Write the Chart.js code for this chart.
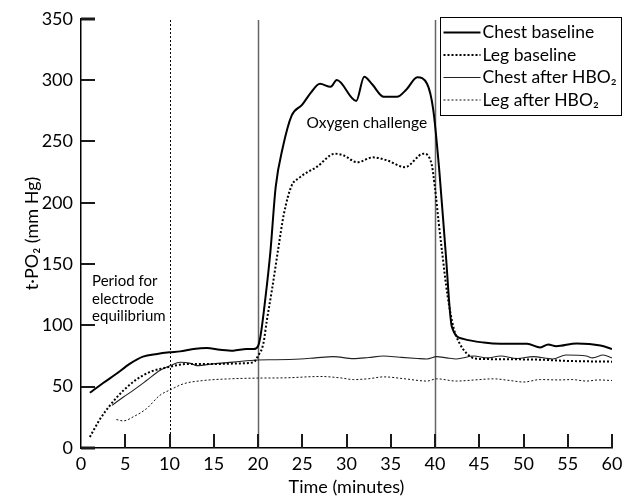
<!DOCTYPE html>
<html>
<head>
<meta charset="utf-8">
<script src="https://cdn.jsdelivr.net/npm/chart.js@4.4.1/dist/chart.umd.min.js"></script>
<style>
  body { margin: 0; background: #fff; }
</style>
</head>
<body>
<canvas id="tpo2Chart" width="629" height="500"></canvas>
<script>
// valores (tempo em minutos, t·PO2 em mm Hg)
const chestBaseT = [1, 2.5, 4, 5.5, 7, 8.6, 10, 11.2, 12.7, 14.2, 15.7, 17.2, 18.7, 19.5, 20, 20.3, 20.8, 21.4, 22, 22.8, 23.8, 25, 26, 27, 28.2, 28.9, 31.1, 32, 32.9, 34.2, 35.7, 36.8, 38, 39.1, 39.8, 40.5, 41.2, 41.9, 43.2, 45.5, 47.4, 50.4, 51.9, 52.8, 53.7, 56, 58.7, 60];
const chestBaseV = [45, 53, 60.5, 68.6, 74.5, 76.7, 78, 78.8, 80.7, 81.5, 80.2, 79.4, 80.7, 80.7, 83, 92, 120, 160, 213, 245, 271, 280, 290, 297, 294.5, 300, 283, 302.8, 296.6, 286.4, 286.4, 292.6, 302.3, 297, 276, 225, 160, 99, 89, 86, 85, 85, 82, 84.4, 83, 85.3, 83.6, 80.7];

const legBaseT = [1, 2.1, 3.3, 4.8, 6.3, 7.8, 9.9, 11.9, 14.9, 18, 19.5, 20, 20.6, 21, 21.6, 22.3, 22.9, 23.8, 24.6, 25.6, 26.6, 28.7, 29.7, 31.2, 33, 34.6, 36.6, 38.7, 39.6, 40, 40.4, 40.8, 41.4, 42.1, 42.8, 43.6, 44.5, 46, 51.9, 55, 60];
const legBaseV = [9, 23, 35, 47, 56, 62, 66, 68.5, 68.5, 69, 70, 75, 85, 104, 130, 163, 190, 214, 220, 225, 229, 240, 238.5, 233, 237, 234.5, 229, 240, 232, 212, 185, 160, 125, 98, 85, 77, 73, 72.5, 72, 71, 70.4];

const chestAfterT = [3.5, 4.8, 5.9, 7.4, 8.9, 10.1, 11.2, 12.4, 13.1, 14.9, 17.2, 19.9, 22, 24.8, 26.5, 28.5, 30.8, 32.5, 34.2, 36, 38, 39.1, 40.2, 41.3, 42.4, 44.4, 45.9, 47.4, 49.3, 51.1, 53.3, 54.8, 57.1, 57.8, 59, 60];
const chestAfterV = [34.8, 41.6, 47, 55, 63.2, 67.2, 69.9, 69, 67.2, 68.6, 70, 71.8, 72, 72.6, 73.5, 74.5, 72.9, 73.8, 75, 74, 73, 72.6, 74.5, 73.5, 72.6, 75, 73.5, 75, 73, 74.5, 72.6, 75.8, 75, 73.5, 75.8, 73.5];

const legAfterT = [4, 4.8, 5.9, 7.4, 8.9, 10.1, 11.6, 13.8, 16.8, 19.9, 23, 27.1, 29.3, 30.8, 32.5, 34.2, 36.5, 39.1, 40.2, 42.4, 44.5, 46.6, 48.5, 50, 51.9, 54, 55.5, 57.1, 58.5, 60];
const legAfterV = [23.2, 22.1, 25.4, 32.1, 42.9, 47.5, 52.4, 55, 56.4, 57, 57.2, 58.3, 57.2, 55.8, 56.5, 58, 56.5, 54.6, 56.4, 54.6, 55.5, 56.4, 55, 53.8, 55.8, 55.5, 55.8, 54.6, 55.5, 55];

const seriesNames = ['Chest baseline', 'Leg baseline', 'Chest after HBO\u2082', 'Leg after HBO\u2082'];
const xTicks = [0, 5, 10, 15, 20, 25, 30, 35, 40, 45, 50, 55, 60];
const yTicks = [0, 50, 100, 150, 200, 250, 300, 350];
const markerTimes = [10, 20, 40];
const periodText = ['Period for', 'electrode', 'equilibrium'];
const challengeText = 'Oxygen challenge';

const FONT = 'Lato, "Noto Sans", sans-serif';
const TICK_LEN = 14;

function pts(ts, vs) {
  return ts.map((t, i) => ({ x: t, y: vs[i] }));
}

const datasets = [
  { label: seriesNames[0], data: pts(chestBaseT, chestBaseV), borderColor: '#000', borderWidth: 2 },
  { label: seriesNames[1], data: pts(legBaseT, legBaseV), borderColor: '#000', borderWidth: 2, borderDash: [2, 2] },
  { label: seriesNames[2], data: pts(chestAfterT, chestAfterV), borderColor: '#222', borderWidth: 1.1 },
  { label: seriesNames[3], data: pts(legAfterT, legAfterV), borderColor: '#111', borderWidth: 1, borderDash: [2, 2] }
];
datasets.forEach(d => { d.pointRadius = 0; d.cubicInterpolationMode = 'monotone'; d.fill = false; });

// linhas verticais, ticks para dentro, textos e legenda
const overlay = {
  id: 'overlay',
  beforeDatasetsDraw(chart) {
    const c = chart.ctx;
    const area = chart.chartArea;
    const xs = chart.scales.x, ys = chart.scales.y;
    c.save();
    markerTimes.forEach(t => {
      const px = Math.round(xs.getPixelForValue(t)) + 0.5;
      c.beginPath();
      if (t === 10) {
        c.setLineDash([2, 2]);
        c.strokeStyle = '#000';
        c.lineWidth = 1;
      } else {
        c.setLineDash([]);
        c.strokeStyle = '#666';
        c.lineWidth = 1.5;
      }
      c.moveTo(px, ys.getPixelForValue(349));
      c.lineTo(px, area.bottom);
      c.stroke();
    });
    c.restore();
  },
  afterDraw(chart) {
    const c = chart.ctx;
    const area = chart.chartArea;
    const xs = chart.scales.x, ys = chart.scales.y;
    c.save();
    c.setLineDash([]);
    c.strokeStyle = '#1a1a1a';
    c.lineWidth = 2;
    xTicks.slice(1).forEach(t => {
      const px = Math.round(xs.getPixelForValue(t));
      c.beginPath();
      c.moveTo(px, area.bottom);
      c.lineTo(px, area.bottom - TICK_LEN);
      c.stroke();
    });
    yTicks.forEach(v => {
      const py = Math.round(ys.getPixelForValue(v));
      c.beginPath();
      c.lineWidth = (v === 350 || v === 0) ? 3 : 2;
      c.moveTo(area.left, py);
      c.lineTo(area.left + TICK_LEN, py);
      c.stroke();
    });
    c.restore();
  },
  afterDatasetsDraw(chart) {
    const c = chart.ctx;
    const xs = chart.scales.x, ys = chart.scales.y;
    c.save();
    c.fillStyle = '#000';
    c.font = '15px ' + FONT;
    c.textAlign = 'left';
    c.textBaseline = 'middle';
    periodText.forEach((line, i) => {
      c.fillText(line, xs.getPixelForValue(1.25), ys.getPixelForValue(136) + i * 17.5);
    });
    c.font = '15.5px ' + FONT;
    c.textAlign = 'center';
    c.fillText(challengeText, xs.getPixelForValue(32.3), ys.getPixelForValue(265));

    // legenda
    const left = 440.5, top = 17.5, w = 181, h = 98;
    c.strokeStyle = '#000';
    c.lineWidth = 1;
    c.setLineDash([]);
    c.strokeRect(left, top, w, h);
    c.font = '17.5px ' + FONT;
    c.textAlign = 'left';
    chart.data.datasets.forEach((d, i) => {
      const ly = top + 15 + i * 22.5;
      c.beginPath();
      c.setLineDash(d.borderDash || []);
      c.strokeStyle = d.borderColor;
      c.lineWidth = d.borderWidth;
      c.moveTo(left + 3, ly);
      c.lineTo(left + 40, ly);
      c.stroke();
      c.setLineDash([]);
      c.fillStyle = '#000';
      c.fillText(d.label, left + 42, ly);
    });
    c.restore();
  }
};

const canvasEl = document.getElementById('tpo2Chart');
window.myChart = new Chart(canvasEl, {
  type: 'line',
  data: { datasets },
  options: {
    responsive: false,
    animation: false,
    layout: { padding: { top: 16, right: 17, left: 0, bottom: 0 } },
    plugins: { legend: { display: false }, tooltip: { enabled: false } },
    scales: {
      x: {
        type: 'linear',
        min: 0,
        max: 60,
        afterBuildTicks: s => { s.ticks = xTicks.map(v => ({ value: v })); },
        ticks: { color: '#000', font: { family: FONT, size: 18 }, padding: 5, maxRotation: 0 },
        grid: { display: false, drawTicks: false },
        border: { color: '#000', width: 1.5 },
        title: { display: true, text: 'Time (minutes)', color: '#000', font: { family: FONT, size: 18 }, padding: { top: 0, bottom: 2 } },
        afterFit: s => { s.height = 52; }
      },
      y: {
        min: 0,
        max: 350,
        afterBuildTicks: s => { s.ticks = yTicks.map(v => ({ value: v })); },
        ticks: { color: '#000', font: { family: FONT, size: 18 }, padding: 8 },
        grid: { display: false, drawTicks: false },
        border: { color: '#000', width: 1.5 },
        title: { display: true, text: 't\u00b7PO\u2082 (mm Hg)', color: '#000', font: { family: FONT, size: 18 }, padding: { top: 21, bottom: 0 } },
        afterFit: s => { s.width = 81; }
      }
    }
  },
  plugins: [overlay]
});
</script>
</body>
</html>
